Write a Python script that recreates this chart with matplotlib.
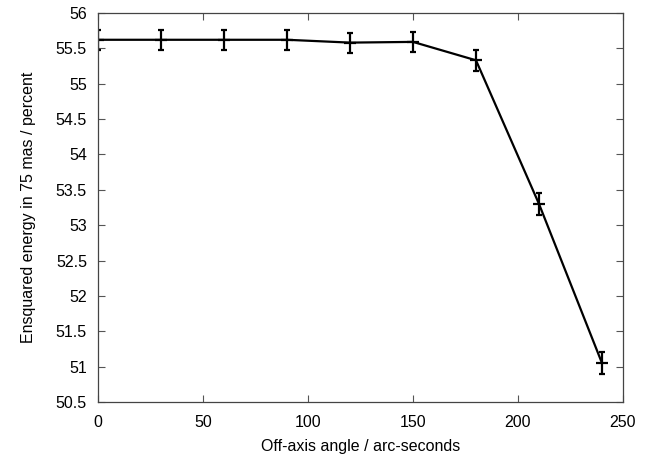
import matplotlib
matplotlib.use("Agg")
import matplotlib.pyplot as plt

angles = [0, 30, 60, 90, 120, 150, 180, 210, 240]
energy = [55.62, 55.62, 55.62, 55.62, 55.58, 55.59, 55.33, 53.30, 51.05]
errors = [0.14, 0.14, 0.14, 0.14, 0.14, 0.14, 0.15, 0.15, 0.15]
xticks = [0, 50, 100, 150, 200, 250]
yticks = [50.5, 51, 51.5, 52, 52.5, 53, 53.5, 54, 54.5, 55, 55.5, 56]

plt.rcParams['font.family'] = ['Liberation Sans', 'DejaVu Sans']

fig = plt.figure(figsize=(6.52, 4.54), dpi=100)
ax = fig.add_axes([0.1503, 0.1145, 0.8052, 0.8571])

ax.errorbar(angles, energy, yerr=errors, color='black', linewidth=1.6,
            elinewidth=1.6, capsize=2.4, capthick=1.6,
            marker='_', markersize=8, markeredgewidth=1.6)

ax.set_xlim(0, 250)
ax.set_ylim(50.5, 56)
ax.set_xticks(xticks)
ax.set_yticks(yticks)
ax.set_yticklabels([f"{v:g}" for v in yticks])
ax.tick_params(direction='in', length=5, width=0.8, color='#555555',
               top=True, right=True, labelsize=11.5)
ax.tick_params(axis='y', pad=8)
ax.tick_params(axis='x', pad=9)
for s in ax.spines.values():
    s.set_color('#444444')
    s.set_linewidth(0.9)

ax.set_xlabel('Off-axis angle / arc-seconds', fontsize=11.5, labelpad=7)
ax.set_ylabel('Ensquared energy in 75 mas / percent', fontsize=11.5, labelpad=14)

fig.savefig('out.png', dpi=100)
